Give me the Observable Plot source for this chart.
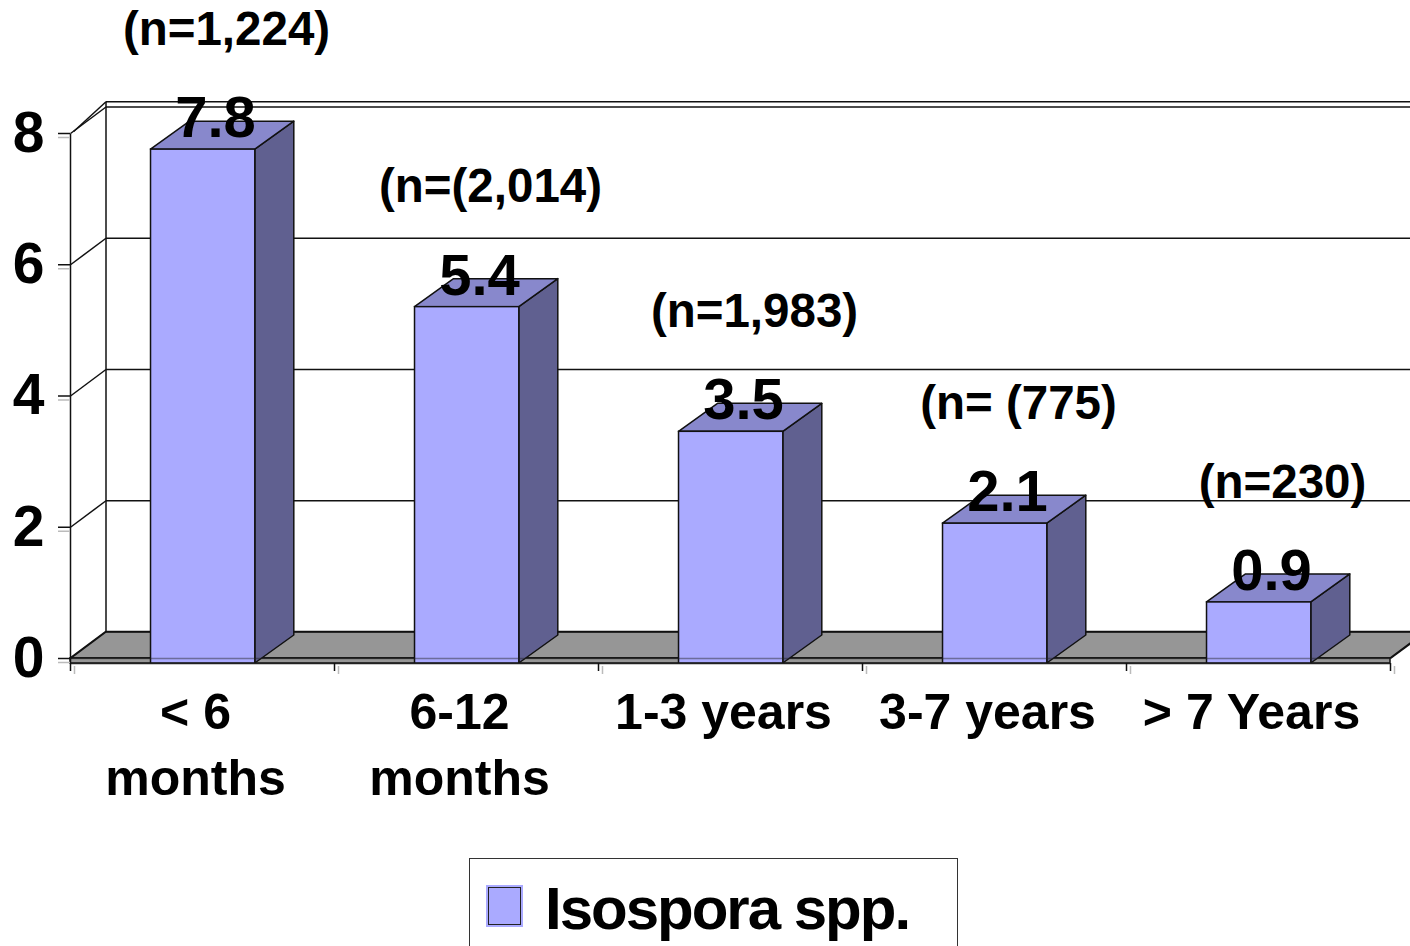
<!DOCTYPE html>
<html>
<head>
<meta charset="utf-8">
<script src="https://cdn.jsdelivr.net/npm/d3@7"></script>
<script src="https://cdn.jsdelivr.net/npm/@observablehq/plot@0.6"></script>
<style>
  html, body { margin: 0; padding: 0; background: #fff; overflow: hidden; }
  #wrap { position: relative; width: 1410px; height: 946px; font-family: "Liberation Sans", Arial, sans-serif; }
  #legend { position: absolute; left: 469px; top: 858px; width: 489px; height: 120px; border: 1.5px solid #333; box-sizing: border-box; background: #fff; }
  #legend .sw { position: absolute; left: 18px; top: 28px; width: 33px; height: 38px; background: #AAAAFF; border: 1.5px solid #222; box-shadow: 0 0 0 2px #AAAAFF; box-sizing: border-box; }
  #legend .lb { position: absolute; left: 75px; top: 14px; font-size: 60px; font-weight: bold; letter-spacing: -2px; line-height: 72px; color: #000; white-space: nowrap; }
</style>
</head>
<body>
<div id="wrap">
  <div id="chart"></div>
  <div id="legend"><div class="sw"></div><div class="lb"></div></div>
</div>
<script>
// ---- data ----
const categories = ["< 6\nmonths", "6-12\nmonths", "1-3 years", "3-7 years", "> 7 Years"];
const values = [7.8, 5.4, 3.5, 2.1, 0.9];
const valueLabels = ["7.8", "5.4", "3.5", "2.1", "0.9"];
const nLabels = ["(n=1,224)", "(n=(2,014)", "(n=1,983)", "(n= (775)", "(n=230)"];
const yTicks = [0, 2, 4, 6, 8];
const seriesName = "Isospora spp.";

// ---- geometry (styling) ----
const W = 1410, H = 850;
const mL = 70, mR = 20, mT = 133, mB = 192;
const pxPerX = (W - mL - mR) / categories.length;   // px per category unit
const pxPerY = (H - mT - mB) / 8;                    // px per value unit
const wallDx = 35.5 / pxPerX, wallDy = 26.5 / pxPerY;
const barDx = 39 / pxPerX, barDy = 28 / pxPerY;
const slab = 5 / pxPerY;
const barL = 0.305, barR = 0.70;
const xMax = W / pxPerX; // right edge, beyond frame

const FRONT = "#AAAAFF", TOP = "#8888CC", SIDE = "#606090", FLOOR = "#969696";

const bars = values.map((v, i) => ({i, v, x1: i + barL, x2: i + barR, cat: categories[i], lab: valueLabels[i], n: nLabels[i]}));

const topFaces = bars.flatMap(b => [
  {i: b.i, y: b.v, x1: b.x1, x2: b.x2},
  {i: b.i, y: b.v + barDy, x1: b.x1 + barDx, x2: b.x2 + barDx}
]);
const sideFaces = bars.flatMap(b => [
  {i: b.i, x: b.x2, y1: -slab * 0.4, y2: b.v},
  {i: b.i, x: b.x2 + barDx, y1: -slab * 0.4 + barDy, y2: b.v + barDy}
]);

const floorTop = [
  {y: 0, x1: 0, x2: categories.length},
  {y: wallDy, x1: wallDx, x2: categories.length + wallDx}
];

const backGrid = yTicks.map(t => ({x1: wallDx, y1: t + wallDy, x2: xMax, y2: t + wallDy}));
const leftDiag = yTicks.map(t => ({x1: 0, y1: t, x2: wallDx, y2: t + wallDy}));
const extraLines = [
  {x1: wallDx, y1: 8 + wallDy + 0.08, x2: xMax, y2: 8 + wallDy + 0.08},
  {x1: 0.012, y1: 8.03, x2: wallDx, y2: 8 + wallDy + 0.08},
  {x1: wallDx, y1: wallDy, x2: wallDx, y2: 8 + wallDy + 0.08},
  {x1: 0, y1: -slab, x2: 0, y2: 8}
];
const xTickPos = d3.range(categories.length + 1);

const font = "Liberation Sans, Arial, sans-serif";

const chart = Plot.plot({
  width: W, height: H,
  marginLeft: mL, marginRight: mR, marginTop: mT, marginBottom: mB,
  x: {type: "linear", domain: [0, categories.length], axis: null},
  y: {domain: [0, 8], axis: null},
  style: {fontFamily: font, fontWeight: "bold", background: "#fff", overflow: "visible"},
  marks: [
    // floor
    Plot.areaX(floorTop, {y: "y", x1: "x1", x2: "x2", fill: FLOOR, stroke: "#111", strokeWidth: 1.5}),
    Plot.rect([{x1: 0, x2: categories.length, y1: -slab, y2: 0}], {x1: "x1", x2: "x2", y1: "y1", y2: "y2", fill: FLOOR, stroke: "#111", strokeWidth: 1.5}),
    Plot.link([{x1: categories.length, y1: 0, x2: categories.length + wallDx, y2: wallDy}], {x1: "x1", y1: "y1", x2: "x2", y2: "y2", stroke: "#111", strokeWidth: 1.5}),
    // walls
    Plot.link(backGrid, {x1: "x1", y1: "y1", x2: "x2", y2: "y2", stroke: "#111", strokeWidth: 1.5}),
    Plot.link(leftDiag, {x1: "x1", y1: "y1", x2: "x2", y2: "y2", stroke: "#111", strokeWidth: 1.5}),
    Plot.link(extraLines, {x1: "x1", y1: "y1", x2: "x2", y2: "y2", stroke: "#111", strokeWidth: 1.5}),
    // bars
    Plot.areaY(sideFaces, {x: "x", y1: "y1", y2: "y2", z: "i", fill: SIDE, stroke: "#111", strokeWidth: 1.5, dy: 3}),
    Plot.areaX(topFaces, {y: "y", x1: "x1", x2: "x2", z: "i", fill: TOP, stroke: "#111", strokeWidth: 1.5, dy: 3}),
    Plot.rect(bars, {x1: "x1", x2: "x2", y1: -slab * 0.4, y2: "v", fill: FRONT, stroke: "#111", strokeWidth: 1.5, dy: 3}),
    // floor front edge seen through bars
    Plot.ruleY([0], {x1: 0, x2: categories.length, stroke: "#222", strokeOpacity: 0.45, strokeWidth: 1.5}),
    Plot.ruleY([-slab], {x1: 0, x2: categories.length, stroke: "#222", strokeWidth: 1.5}),
    // x ticks
    Plot.ruleX(xTickPos, {y1: -slab, y2: -slab - 8 / pxPerY, stroke: "#bbb", strokeWidth: 1.5, dx: 4, dy: 3}),
    Plot.ruleX(xTickPos, {y1: -slab, y2: -slab - 8 / pxPerY, stroke: "#111", strokeWidth: 1.5}),
    // y axis
    Plot.ruleY(yTicks, {x1: -12 / pxPerX, x2: 0, stroke: "#bbb", strokeWidth: 1.5, dy: 4}),
    Plot.axisY({ticks: yTicks, tickSize: 12, tickPadding: 14, fontSize: 57, fontWeight: "bold", label: null, strokeWidth: 1.5, stroke: "#111", fill: "#000"}),
    // value labels
    Plot.text(bars, {x: d => d.i + 0.5, y: "v", text: "lab", dx: 13, dy: -28, fontSize: 58, fontWeight: "bold", fill: "#000", style: "letter-spacing:-1.5px"}),
    // n labels
    Plot.text(bars, {x: d => d.i + 0.5, y: "v", text: "n", dx: 24, dy: -117, fontSize: 47.5, fontWeight: "bold", fill: "#000"}),
    // category labels
    Plot.text(bars, {x: d => d.i + 0.5, y: 0, text: "cat", dx: -7, dy: 24, lineAnchor: "top", lineHeight: 1.32, fontSize: 50, fontWeight: "bold", fill: "#000"})
  ]
});
document.getElementById("chart").appendChild(chart);
document.querySelector("#legend .lb").textContent = seriesName;
</script>
</body>
</html>
